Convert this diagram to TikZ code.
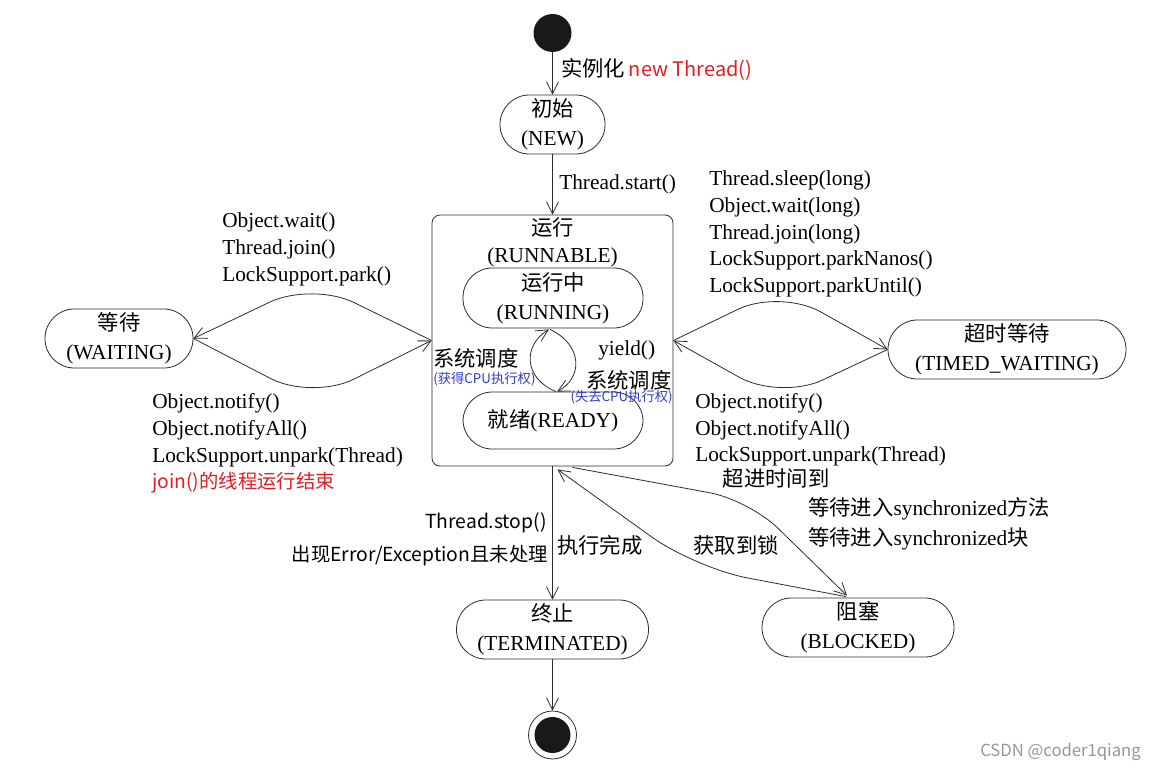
\documentclass[tikz,border=0pt]{standalone}
\usepackage{fontspec}
\setmainfont{Liberation Serif}
\newfontfamily\cjkfont{Noto Sans CJK SC}
\usetikzlibrary{arrows.meta,calc}
\definecolor{lc}{RGB}{45,45,45}
\definecolor{rd}{RGB}{225,30,35}
\definecolor{bl}{RGB}{50,60,200}
\definecolor{wm}{RGB}{150,150,150}
\newcommand\zh[1]{{\cjkfont #1}}
\begin{document}
\begin{tikzpicture}[x=0.75pt,y=-0.75pt,
  arr/.style={draw=lc, line width=0.6pt, -{Straight Barb[length=9pt,width=9pt,line width=0.6pt]}},
  st/.style={draw=lc, line width=0.6pt, rounded corners=22pt, minimum height=44.25pt, inner sep=0pt, align=center, font=\fontsize{16}{21.5}\selectfont},
  lbl/.style={inner sep=0pt, align=left, font=\fontsize{16}{20}\selectfont},
  sans/.style={inner sep=0pt, font=\cjkfont\fontsize{14.5}{18}\selectfont},
  small/.style={inner sep=0pt, text=bl, font=\cjkfont\fontsize{10}{12}\selectfont},
]
\fill[white] (0,0) rectangle (1155,771);
\useasboundingbox (0,0) rectangle (1155,771);

% states
\node[circle, fill=black!90, minimum size=28.5pt, inner sep=0pt] (start) at (552.5,33) {};
\node[st, minimum width=78.75pt] (new) at (552.5,124.5) {\zh{初始}\\(NEW)};
\node[draw=lc, line width=0.6pt, rounded corners=6pt, minimum width=180.75pt, minimum height=188.25pt, inner sep=0pt] (runnable) at (552.5,340.5) {};
\node[lbl, align=center] (rtitle) at (552.5,242) {\zh{运行}\\(RUNNABLE)};
\node[st, minimum width=135pt, minimum height=45pt] (running) at (553,298) {\zh{运行中}\\(RUNNING)};
\node[st, minimum width=135pt, minimum height=42.75pt] (ready) at (553,420.5) {\zh{就绪}(READY)};
\node[st, minimum width=111pt] (waiting) at (119,338.5) {\zh{等待}\\(WAITING)};
\node[st, minimum width=178.5pt] (timed) at (1007,349.5) {\zh{超时等待}\\(TIMED\_WAITING)};
\node[st, minimum width=144pt] (term) at (552.5,629.5) {\zh{终止}\\(TERMINATED)};
\node[st, minimum width=144pt] (blocked) at (858,627.5) {\zh{阻塞}\\(BLOCKED)};
\node[circle, draw=lc, line width=0.6pt, minimum size=36pt, inner sep=0pt] (end) at (552.5,735) {};
\node[circle, fill=black!90, minimum size=27pt, inner sep=0pt] (endin) at (end.center) {};

% connectors
\draw[arr] (start) -- (new);
\draw[arr] (new.south) -- (runnable.north);
\draw[arr] ($(ready.north)+(3,0)$) .. controls (523,378) and (523,345) .. ($(running.south)+(-4,1)$);
\draw[arr] ($(running.south)+(-3,1)$) .. controls (583,345) and (583,378) .. ($(ready.north)+(4,0)$);
\draw[arr, rounded corners=35pt] (runnable.west) -- (312,282) -- (waiting.east);
\draw[arr, rounded corners=35pt] (waiting.east) -- (312,400) -- (runnable.west);
\draw[arr, rounded corners=35pt] (runnable.east) -- (780,289) -- (timed.west);
\draw[arr, rounded corners=35pt] (timed.west) -- (780,400) -- (runnable.east);
\draw[arr] (runnable.south) -- (term.north);
\draw[arr] (term.south) -- (end.north);
\draw[arr, rounded corners=30pt] ($(runnable.south)+(20,1)$) -- (749,500) -- ($(blocked.north)+(-11,-2)$);
\draw[arr, rounded corners=40pt] ($(blocked.north)+(-12,-1)$) -- (695,568) -- ($(runnable.south)+(5,3)$);

% labels
\node[anchor=west, inner sep=0pt] (lnew) at (561,69) {\fontsize{16}{20}\selectfont\zh{实例化}\,{\cjkfont\fontsize{15}{18}\selectfont\color{rd}new Thread()}};
\node[lbl, anchor=west] (lstart) at (559,184) {Thread.start()};
\node[lbl, anchor=west] (lwait1) at (222,249.5) {Object.wait()\\Thread.join()\\LockSupport.park()};
\node[lbl, anchor=west] (lwait2) at (152,443.5) {Object.notify()\\Object.notifyAll()\\LockSupport.unpark(Thread)\\{\cjkfont\fontsize{14.5}{18}\selectfont\color{rd}join()的线程运行结束}};
\node[lbl, anchor=west] (ltimed1) at (709,234) {Thread.sleep(long)\\Object.wait(long)\\Thread.join(long)\\LockSupport.parkNanos()\\LockSupport.parkUntil()};
\node[lbl, anchor=west] (ltimed2) at (695,430) {Object.notify()\\Object.notifyAll()\\LockSupport.unpark(Thread)};
\node[lbl, anchor=west] (lsch1) at (433,358) {\zh{系统调度}};
\node[small, anchor=west] (lsch1b) at (433,379) {(获得CPU执行权)};
\node[lbl, anchor=west] (lyield) at (598,350) {yield()};
\node[lbl, anchor=west] (lsch2) at (586,380) {\zh{系统调度}};
\node[small, anchor=east] (lsch2b) at (673,397) {(失去CPU执行权)};
\node[sans, anchor=east] (lstop) at (547,523) {Thread.stop()};
\node[sans, anchor=east] (lerr) at (548,556) {出现Error/Exception且未处理};
\node[lbl, anchor=west] (ldone) at (557,545) {\zh{执行完成}};
\node[lbl] (ltimeout) at (776,478) {\zh{超进时间到}};
\node[lbl] (llock) at (736,545) {\zh{获取到锁}};
\node[lbl, anchor=west] (lsync1) at (808,509) {\zh{等待进入}synchronized\zh{方法}};
\node[lbl, anchor=west] (lsync2) at (808,539) {\zh{等待进入}synchronized\zh{块}};
\node[anchor=east, inner sep=0pt, text=wm, font=\cjkfont\fontsize{12.5}{15}\selectfont] (wmk) at (1141,752) {CSDN @coder1qiang};
\end{tikzpicture}
\end{document}
